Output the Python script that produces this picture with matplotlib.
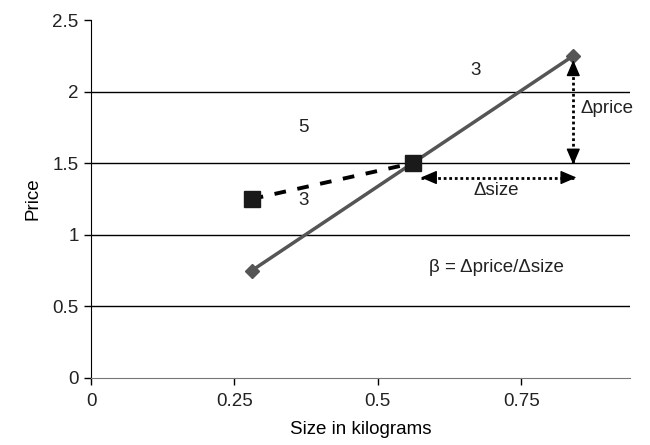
import matplotlib.pyplot as plt

# --- DANE ---
size_line = [0.25, 0.5, 0.75]
price_line = [0.75, 1.5, 2.25]
size_sq = [0.25, 0.5]
price_sq = [1.25, 1.5]
y_ticks = [0, 0.5, 1, 1.5, 2, 2.5]
x_tick_labels = ['0', '0.25', '0.5', '0.75']
# the original chart has its tick labels shifted left of the data positions
x_tick_pos = [0, 0.223, 0.446, 0.669]

plt.rcParams['font.family'] = ['Liberation Sans', 'DejaVu Sans']
plt.rcParams['font.size'] = 13.5
plt.rcParams['text.color'] = '#222222'

fig = plt.figure(figsize=(6.5, 4.45), dpi=100)
ax = fig.add_axes([0.14, 0.1506, 0.829, 0.8044])

for y in y_ticks[1:-1]:
    ax.axhline(y, color='black', linewidth=1, zorder=1)

ax.plot(size_line, price_line, color='#555555', linewidth=2.5,
        marker='D', markersize=7, markerfacecolor='#555555', zorder=3)
ax.plot(size_sq, price_sq, color='black', linewidth=2.8, linestyle=(0, (3, 3)),
        zorder=3)
ax.plot(size_sq, price_sq, linestyle='none', marker='s', markersize=11,
        color='#1a1a1a', zorder=4)


def dbl_arrow(p0, p1):
    # kropkowany trzon + dwa pelne groty
    ax.plot([p0[0], p1[0]], [p0[1], p1[1]], color='black', linewidth=2,
            linestyle=(0, (1, 1)), zorder=2)
    head = dict(arrowstyle='-|>,head_length=0.7,head_width=0.3', color='black',
                linewidth=1, shrinkA=0, shrinkB=0, mutation_scale=14)
    dx = (p1[0] - p0[0]) * 0.08
    dy = (p1[1] - p0[1]) * 0.08
    ax.annotate('', xy=p0, xytext=(p0[0] + dx, p0[1] + dy), arrowprops=head)
    ax.annotate('', xy=p1, xytext=(p1[0] - dx, p1[1] - dy), arrowprops=head)


dbl_arrow((0.75, 2.22), (0.75, 1.49))
dbl_arrow((0.513, 1.4), (0.755, 1.4))

ax.text(0.598, 2.15, '3', ha='center', va='center')
ax.text(0.33, 1.75, '5', ha='center', va='center')
ax.text(0.33, 1.24, '3', ha='center', va='center')
ax.text(0.803, 1.885, '\u0394price', ha='center', va='center')
ax.text(0.63, 1.31, '\u0394size', ha='center', va='center')
ax.text(0.63, 0.77, '\u03b2 = \u0394price/\u0394size', ha='center', va='center')

ax.set_xlim(0, 0.838)
ax.set_ylim(0, 2.5)
ax.set_yticks(y_ticks)
ax.set_yticklabels(['0', '0.5', '1', '1.5', '2', '2.5'])
ax.set_xticks(x_tick_pos)
ax.set_xticklabels(x_tick_labels)
ax.tick_params(length=5, width=1, color='black', labelcolor='#222222', pad=6)
ax.tick_params(axis='y', pad=4)

for s in ['top', 'right']:
    ax.spines[s].set_visible(False)
ax.spines['bottom'].set_color('#777777')
ax.spines['left'].set_color('black')

ax.set_xlabel('Size in kilograms', labelpad=8)
ax.set_ylabel('Price', labelpad=8)

plt.savefig('out.png', dpi=100)
